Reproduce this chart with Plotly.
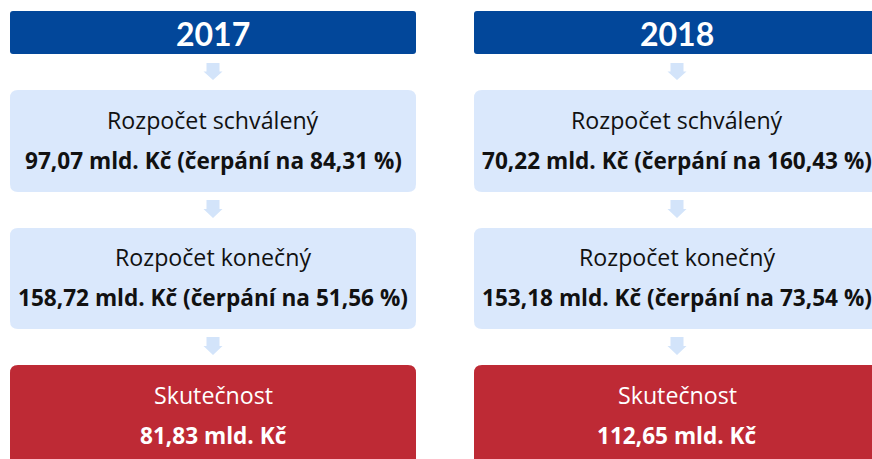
import plotly.graph_objects as go

# ---- data ----
years = ["2017", "2018"]
stage_labels = ["Rozpočet schválený", "Rozpočet konečný", "Skutečnost"]
approved = [97.07, 70.22]          # mld. Kč
approved_pct = [84.31, 160.43]     # %
final = [158.72, 153.18]           # mld. Kč
final_pct = [51.56, 73.54]         # %
actual = [81.83, 112.65]           # mld. Kč


def cz(v):
    return f"{v:.2f}".replace(".", ",")


W, H = 872, 459
DARK = "#02479A"
LIGHT = "#DAE8FC"
ARROW = "#D3E4FA"
RED = "#BE2A35"
HFONT = "Lato"
FONT = "Open Sans"

col_x = [10, 474]
col_w = 406

fig = go.Figure()
shapes = []
annotations = []


def rrect(x0, y0, x1, y1, r, color):
    p = (f"M {x0+r},{y0} L {x1-r},{y0} Q {x1},{y0} {x1},{y0+r} "
         f"L {x1},{y1-r} Q {x1},{y1} {x1-r},{y1} L {x0+r},{y1} "
         f"Q {x0},{y1} {x0},{y1-r} L {x0},{y0+r} Q {x0},{y0} {x0+r},{y0} Z")
    return dict(type="path", path=p, fillcolor=color, line=dict(width=0),
                xref="x", yref="y", layer="below")


def arrow(cx, y0, y1):
    sh = 6.5
    hd = 9.5
    ym = y0 + (y1 - y0) * 0.5
    p = (f"M {cx-sh},{y0} L {cx+sh},{y0} L {cx+sh},{ym} L {cx+hd},{ym} "
         f"L {cx},{y1} L {cx-hd},{ym} L {cx-sh},{ym} Z")
    return dict(type="path", path=p, fillcolor=ARROW, line=dict(width=0),
                xref="x", yref="y", layer="below")


def text(x, y, s, size, color, bold=False, family=FONT):
    annotations.append(dict(
        x=x, y=y, xref="x", yref="y", text=f"<b>{s}</b>" if bold else s,
        showarrow=False, xanchor="center", yanchor="middle",
        font=dict(family=family, size=size, color=color)))


REG = 23.2
BOLD = 22.6

for i, yr in enumerate(years):
    x0 = col_x[i]
    x1 = x0 + col_w
    cx = (x0 + x1) / 2
    # header
    shapes.append(rrect(x0, 11, x1, 54, 3, DARK))
    text(cx, 33, yr, 32, "white", bold=True, family=HFONT)
    shapes.append(arrow(cx, 63, 80))
    # approved
    shapes.append(rrect(x0, 90, x1, 192, 8, LIGHT))
    text(cx, 119.5, stage_labels[0], REG, "#111111")
    text(cx, 160, f"{cz(approved[i])} mld. Kč (čerpání na {cz(approved_pct[i])} %)",
         BOLD, "#111111", bold=True)
    shapes.append(arrow(cx, 200, 218))
    # final
    shapes.append(rrect(x0, 228, x1, 329, 8, LIGHT))
    text(cx, 256.5, stage_labels[1], REG, "#111111")
    text(cx, 297, f"{cz(final[i])} mld. Kč (čerpání na {cz(final_pct[i])} %)",
         BOLD, "#111111", bold=True)
    shapes.append(arrow(cx, 337, 355))
    # actual
    shapes.append(rrect(x0, 365, x1, 500, 8, RED))
    text(cx, 394.5, stage_labels[2], REG, "white")
    text(cx, 435, f"{cz(actual[i])} mld. Kč", BOLD, "white", bold=True)

fig.update_layout(
    width=W, height=H,
    margin=dict(l=0, r=0, t=0, b=0),
    paper_bgcolor="white", plot_bgcolor="white",
    shapes=shapes, annotations=annotations,
    xaxis=dict(range=[0, W], visible=False, fixedrange=True),
    yaxis=dict(range=[H, 0], visible=False, fixedrange=True),
    showlegend=False,
)

fig.write_html("out.html", config={"displayModeBar": False},
               post_script="document.body.style.margin='0';document.body.style.overflow='hidden';")
